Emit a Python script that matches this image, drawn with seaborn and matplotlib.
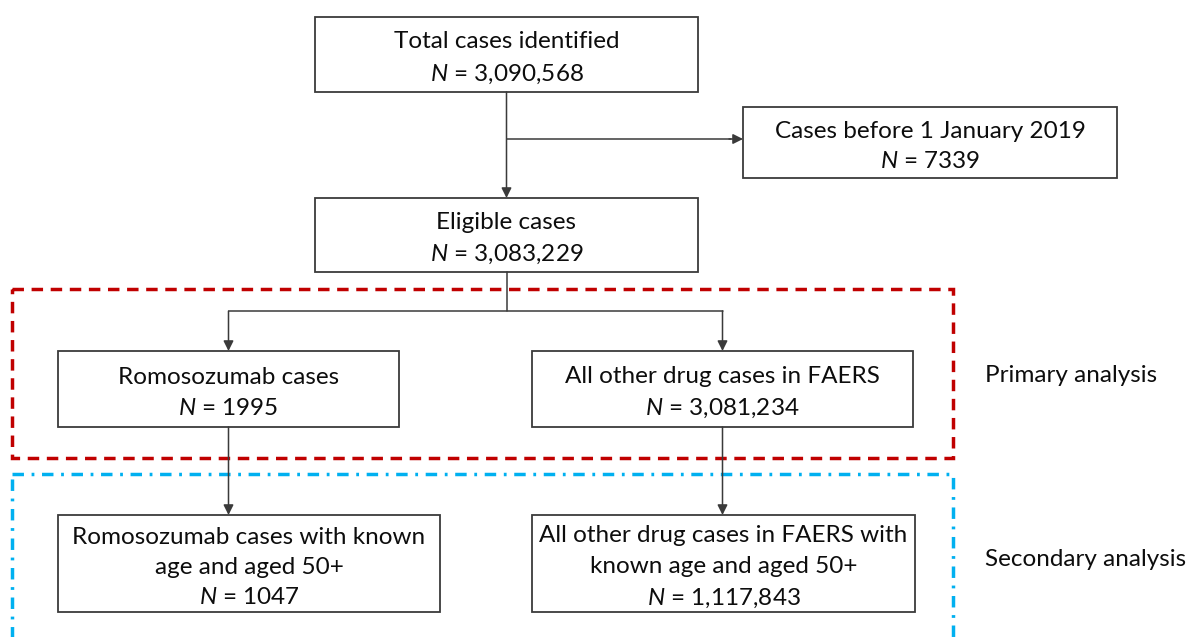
import matplotlib
matplotlib.use("Agg")
import matplotlib.pyplot as plt
import matplotlib.patches as mpatches
import seaborn as sns

# box texts
box_titles = ["Total cases identified", "Cases before 1 January 2019", "Eligible cases",
              "Romosozumab cases", "All other drug cases in FAERS",
              "Romosozumab cases with known\nage and aged 50+",
              "All other drug cases in FAERS with\nknown age and aged 50+"]
box_counts = ["3,090,568", "7339", "3,083,229", "1995", "3,081,234", "1047", "1,117,843"]
# box extents in pixel coords: left, top, right, bottom
box_x0 = [315, 743, 315, 58, 532, 58, 532]
box_x1 = [698, 1117, 698, 399, 913, 440, 915]
box_y0 = [17, 107, 198, 351, 351, 515, 515]
box_y1 = [92, 178, 272, 427, 427, 612, 612]

group_labels = ["Primary analysis", "Secondary analysis"]

sns.set_style("white")
plt.rcParams["font.family"] = ["Lato", "DejaVu Sans"]
plt.rcParams["mathtext.fontset"] = "custom"
plt.rcParams["mathtext.rm"] = "Lato"
plt.rcParams["mathtext.it"] = "Lato:italic"

fig = plt.figure(figsize=(11.9, 6.37), dpi=100)
ax = fig.add_axes([0, 0, 1, 1])
ax.set_xlim(0, 1190)
ax.set_ylim(637, 0)
ax.axis("off")

edge = "#3a3a3a"
fs = 17.5
txt = "#0d0d0d"

for t, n, x0, x1, y0, y1 in zip(box_titles, box_counts, box_x0, box_x1, box_y0, box_y1):
    ax.add_patch(mpatches.Rectangle((x0, y0), x1 - x0, y1 - y0, fill=False,
                                    edgecolor=edge, lw=1.3))
    ax.text((x0 + x1) / 2, (y0 + y1) / 2 + 4, t + "\n$\\mathit{N}$ = " + n,
            ha="center", va="center", fontsize=fs, color=txt, linespacing=1.55)

arrow_kw = dict(arrowstyle="-|>,head_length=0.6,head_width=0.3", color=edge, lw=1.1,
                shrinkA=0, shrinkB=0)

def arrow(x0, y0, x1, y1):
    ax.annotate("", xy=(x1, y1), xytext=(x0, y0), arrowprops=arrow_kw)

def cx(i):
    return (box_x0[i] + box_x1[i]) / 2

# total -> eligible, branch to excluded
arrow(cx(0), box_y1[0], cx(2), box_y0[2])
mid_y = 139
ax.plot([cx(0), box_x0[1] - 12], [mid_y, mid_y], color=edge, lw=1.1)
arrow(box_x0[1] - 14, mid_y, box_x0[1], mid_y)

# eligible -> split
split_y = 311
ax.plot([cx(2), cx(2)], [box_y1[2], split_y], color=edge, lw=1.1)
ax.plot([cx(3), cx(4)], [split_y, split_y], color=edge, lw=1.1)
arrow(cx(3), split_y, cx(3), box_y0[3])
arrow(cx(4), split_y, cx(4), box_y0[4])

# primary -> secondary
arrow(cx(3), box_y1[3], cx(3), box_y0[5])
arrow(cx(4), box_y1[4], cx(4), box_y0[6])

# group frames
ax.add_patch(mpatches.Rectangle((12, 289), 941, 169, fill=False, edgecolor="#C00000",
                                lw=2.5, linestyle=(0, (3.3, 2.2))))
ax.add_patch(mpatches.Rectangle((12, 474), 941, 200, fill=False, edgecolor="#00B0F0",
                                lw=2.5, linestyle=(0, (3.3, 2.2, 0.8, 2.2))))

ax.text(985, 376, group_labels[0], ha="left", va="center", fontsize=fs, color=txt)
ax.text(985, 560, group_labels[1], ha="left", va="center", fontsize=fs, color=txt)

fig.savefig("out.png", dpi=100, facecolor="white")
